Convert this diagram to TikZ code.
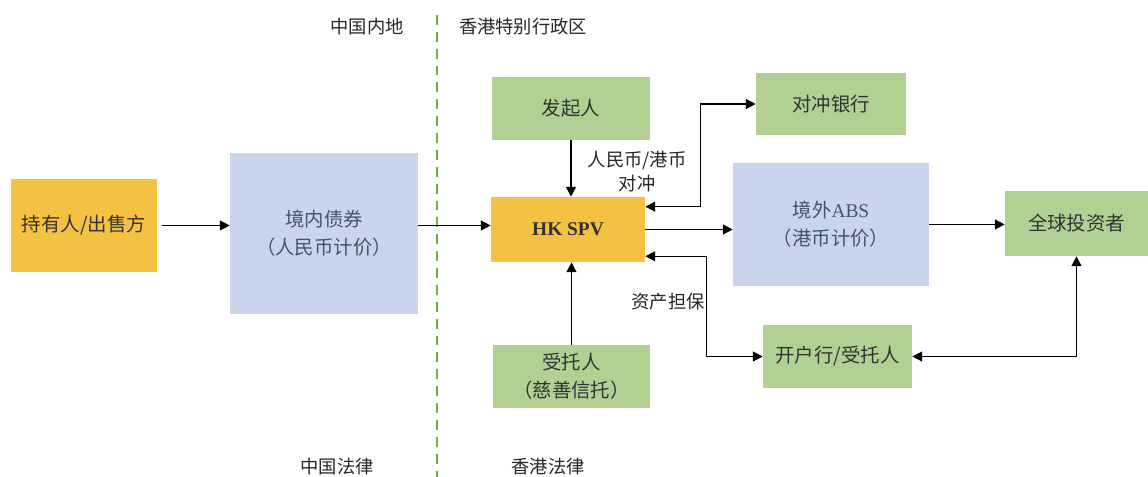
\documentclass[tikz,border=0pt]{standalone}
\usepackage{fontspec}
\setmainfont{Noto Sans CJK SC}
\newfontfamily\latfont{Liberation Serif}
\usetikzlibrary{arrows.meta}
\definecolor{boxorange}{HTML}{F4C142}
\definecolor{boxblue}{HTML}{C9D5EC}
\definecolor{boxgreen}{HTML}{B0D094}
\definecolor{linegreen}{HTML}{70AD47}
\definecolor{bluetext}{HTML}{44546A}
\tikzstyle{rec} = [rectangle, inner sep=0, align=center, font=\fontsize{13.8}{20}\selectfont, text=black!80]
\tikzstyle{orangebox} = [rec, fill=boxorange]
\tikzstyle{bluebox} = [rec, fill=boxblue, text=bluetext]
\tikzstyle{greenbox} = [rec, fill=boxgreen]
\tikzstyle{lbl} = [inner sep=0, align=center, font=\fontsize{13}{17}\selectfont, text=black!85]
\tikzstyle{arrow} = [line width=0.95pt, -{Triangle[length=7pt,width=7pt]}]
\tikzstyle{twoway} = [line width=0.95pt, {Triangle[length=7pt,width=7pt]}-{Triangle[length=7pt,width=7pt]}]
\begin{document}
\begin{tikzpicture}[x=0.025cm, y=-0.025cm]
\useasboundingbox (0,0) rectangle (1148,477);
% border between mainland and Hong Kong
\draw [linegreen, line width=1.4pt, dash pattern=on 7pt off 5pt] (437,15) -- (437,477);
\node (mainland) [lbl] at (367,27) {中国内地};
\node (hkregion) [lbl] at (523,27) {香港特别行政区};
\node (cnlaw) [lbl] at (337,467) {中国法律};
\node (hklaw) [lbl] at (548,467) {香港法律};
% boxes
\node (holder) [orangebox, minimum width=3.65cm, minimum height=2.325cm] at (84,225.5) {持有人/出售方};
\node (bond) [bluebox, minimum width=4.7cm, minimum height=4.025cm] at (324,233.5) {境内债券\\（人民币计价）};
\node (originator) [greenbox, minimum width=3.95cm, minimum height=1.575cm] at (571,108.5) {发起人};
\node (spv) [orangebox, minimum width=3.85cm, minimum height=1.625cm] at (568,229.5) {\latfont\bfseries HK SPV};
\node (hedgebank) [greenbox, minimum width=3.75cm, minimum height=1.55cm] at (831,104) {对冲银行};
\node (abs) [bluebox, minimum width=4.9cm, minimum height=3.075cm] at (831,224.5) {境外{\latfont ABS}\\（港币计价）};
\node (investor) [greenbox, minimum width=3.575cm, minimum height=1.625cm] at (1076.5,223.5) {全球投资者};
\node (trustee) [greenbox, minimum width=3.925cm, minimum height=1.575cm] at (571.5,376.5) {受托人\\（慈善信托）};
\node (bank) [greenbox, minimum width=3.725cm, minimum height=1.575cm] at (837.5,356.5) {开户行/受托人};
% connectors
\draw [arrow] ([xshift=3pt]holder.east) -- (holder -| bond.west);
\draw [arrow] ([yshift=0.1cm]bond.east |- spv) -- ([yshift=0.1cm]spv.west);
\draw [arrow] (originator.south) -- (originator.south |- spv.north);
\draw [arrow] (trustee.north) -- (trustee.north |- spv.south);
\draw [twoway] ([yshift=-0.25cm]spv.north east) -- ++(1.375cm,0) |- (hedgebank.west);
\draw [arrow] (spv.east) -- (spv.east -| abs.west);
\draw [twoway] ([yshift=0.15cm]spv.south east) -- ++(1.525cm,0) |- (bank.west);
\draw [arrow] (abs.east) -- (abs.east -| investor.west);
\draw [twoway] (bank.east) -| (investor.south);
\node (hedgelbl) [lbl] at (637,172) {人民币/港币\\对冲};
\node (collateral) [lbl] at (668,302) {资产担保};
\end{tikzpicture}
\end{document}
